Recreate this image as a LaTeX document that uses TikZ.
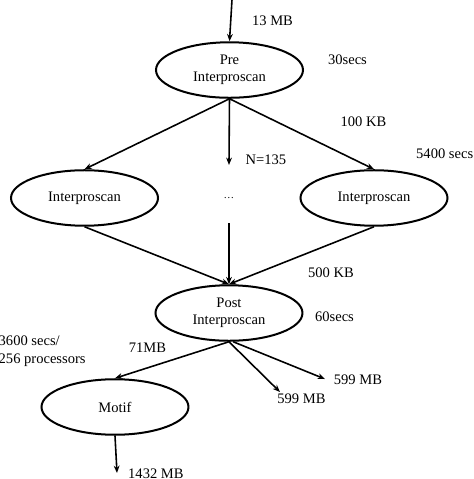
\documentclass[tikz,border=0pt]{standalone}
\usepackage{fontspec}
\setmainfont{Liberation Serif}
\usetikzlibrary{shapes.geometric,arrows.meta,positioning}

\begin{document}
\begin{tikzpicture}[
    proc/.style={draw, ellipse, line width=1.9pt, minimum width=4.9cm, minimum height=1.85cm, inner sep=0pt, align=center, font=\fontsize{13.8}{16}\selectfont},
    lbl/.style={font=\fontsize{13.8}{17}\selectfont, inner sep=0pt},
    flow/.style={line width=1.5pt, -{Stealth[length=7pt,width=5.5pt]}}
  ]
        \useasboundingbox (0,0) rectangle (15.8,15.967);
        % Stages
        \node[proc] (pre) at (7.65,13.633) {Pre\\Interproscan};
        \node[proc] (ipsl) at (2.817,9.367) {Interproscan};
        \node[proc] (ipsr) at (12.467,9.367) {Interproscan};
        \node[lbl] (dots) at (7.633,9.367) {\fontsize{10}{12}\selectfont\dots};
        \node[proc] (post) at (7.633,5.533) {Post\\Interproscan};
        \node[proc] (motif) at (3.833,2.4) {Motif};

        % Free ends
        \coordinate (input) at (7.733,15.967);
        \coordinate (splitend) at (7.633,10.467);
        \coordinate (joinstart) at (7.633,8.533);
        \coordinate (outa) at (9.333,2.9);
        \coordinate (outb) at (10.833,3.333);
        \coordinate (final) at (3.9,0.2);

        % Connectors
        \draw[flow] (input) -- (pre.north);
        \draw[flow] (pre.south) -- (ipsl.north);
        \draw[flow] (pre.south) -- (ipsr.north);
        \draw[flow] (pre.south) -- (splitend);
        \draw[flow] (ipsl.south) -- (post.north);
        \draw[flow] (ipsr.south) -- (post.north);
        \draw[flow] (joinstart) -- (post.north);
        \draw[flow] (post.south) -- (motif.north);
        \draw[flow] (post.south) -- (outa);
        \draw[flow] ([xshift=4pt]post.south) -- (outb);
        \draw[flow] (motif.south) -- (final);

        % Sizes and times
        \node[lbl] at (9.083,15.267) {13 MB};
        \node[lbl] at (11.583,13.967) {30secs};
        \node[lbl] at (12.117,11.9) {100 KB};
        \node[lbl] at (8.867,10.633) {N=135};
        \node[lbl, anchor=west] at (13.867,10.833) {5400 secs};
        \node[lbl] at (11.033,6.867) {500 KB};
        \node[lbl] at (11.15,5.4) {60secs};
        \node[lbl, anchor=west, align=left] at (-0.05,4.267) {3600 secs/\\256 processors};
        \node[lbl] at (4.917,4.367) {71MB};
        \node[lbl] at (10.05,2.667) {599 MB};
        \node[lbl] at (11.933,3.3) {599 MB};
        \node[lbl, anchor=west] at (4.267,0.167) {1432 MB};
      \end{tikzpicture}
\end{document}
